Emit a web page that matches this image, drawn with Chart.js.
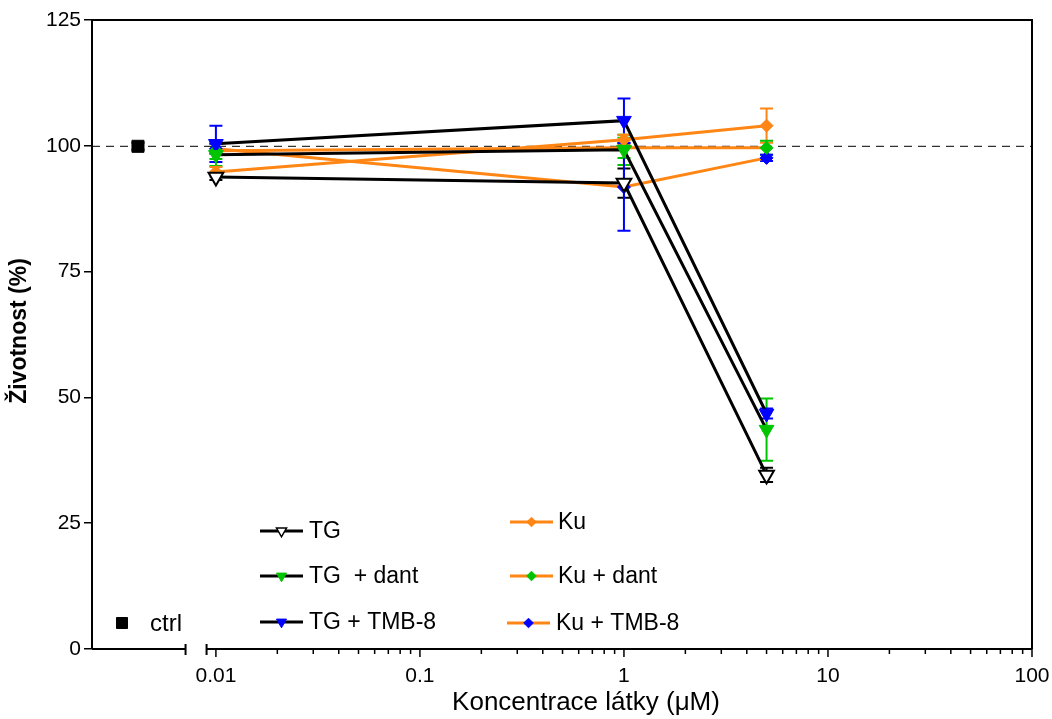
<!DOCTYPE html>
<html>
<head>
<meta charset="utf-8">
<script src="https://cdn.jsdelivr.net/npm/chart.js@4/dist/chart.umd.min.js"></script>
<style>
  html, body { margin: 0; padding: 0; background: #fff; }
  #wrap { width: 1052px; height: 719px; }
</style>
</head>
<body>
<div id="wrap"><canvas id="chart" width="1052" height="719"></canvas></div>
<script>
// concentrations (uM) and viability (%)
const concentrations = [0.01, 1, 5];

const tgValues = [93.8, 92.6, 34.6];
const tgErr = [0.6, 2.9, 1.4];
const tgDantValues = [98.2, 99.2, 43.6];
const tgDantErr = [2.2, 3.0, 6.2];
const tgTmbValues = [100.4, 105.0, 46.8];
const tgTmbErr = [3.6, 4.4, 1.0];

const kuValues = [94.8, 101.2, 104.0];
const kuErr = [1.0, 1.0, 3.4];
const kuDantValues = [99.0, 99.6, 99.6];
const kuDantErr = [1.6, 2.0, 1.4];
const kuTmbValues = [99.4, 91.8, 97.6];
const kuTmbErr = [1.0, 8.7, 0.6];

const ctrlX = [0.00415];
const ctrlValue = [99.9];
const ctrlErr = [0.7];

const yTicks = [0, 25, 50, 75, 100, 125];
const xDecadeLabels = ["0.01", "0.1", "1", "10", "100"];
const xRange = [0.00247, 100];
const axisBreak = [0.0071, 0.009];
const refLine = 100;

const FONT = "'Liberation Sans', Arial, Helvetica, sans-serif";
const ORANGE = "#ff8614";
const GREEN = "#00c400";
const BLUE = "#0000ff";

Chart.defaults.font.family = FONT;

function makeSet(label, values, err, lineColor, style, fill, edge) {
  const hollow = fill === "#ffffff";
  return {
    label: label,
    data: concentrations.map((x, i) => ({ x: x, y: values[i] })),
    err: err,
    errColor: hollow ? "#000000" : fill,
    legendStyle: style,
    borderColor: lineColor,
    backgroundColor: fill,
    borderWidth: 3,
    showLine: true,
    tension: 0,
    pointStyle: style,
    pointRotation: style === "triangle" ? 180 : 0,
    pointRadius: style === "triangle" ? 8.5 : 6.5,
    pointHoverRadius: style === "triangle" ? 8.5 : 6.5,
    pointBackgroundColor: fill,
    pointBorderColor: edge,
    pointBorderWidth: hollow ? 2 : 1
  };
}

const datasets = [
  makeSet("TG", tgValues, tgErr, "#000000", "triangle", "#ffffff", "#000000"),
  makeSet("TG  + dant", tgDantValues, tgDantErr, "#000000", "triangle", GREEN, GREEN),
  makeSet("TG + TMB-8", tgTmbValues, tgTmbErr, "#000000", "triangle", BLUE, BLUE),
  makeSet("Ku", kuValues, kuErr, ORANGE, "rectRot", ORANGE, ORANGE),
  makeSet("Ku + dant", kuDantValues, kuDantErr, ORANGE, "rectRot", GREEN, GREEN),
  makeSet("Ku + TMB-8", kuTmbValues, kuTmbErr, ORANGE, "rectRot", BLUE, BLUE),
  {
    label: "ctrl",
    data: ctrlX.map((x, i) => ({ x: x, y: ctrlValue[i] })),
    err: ctrlErr,
    errColor: "#000000",
    showLine: false,
    pointStyle: "rect",
    pointRadius: 8.5,
    pointHoverRadius: 8.5,
    pointBackgroundColor: "#000000",
    pointBorderColor: "#000000",
    pointBorderWidth: 1
  }
];

function drawMarker(ctx, style, x, y, r, fill, edge, lw) {
  ctx.beginPath();
  if (style === "triangle") {
    ctx.moveTo(x - r * 0.866, y - r * 0.5);
    ctx.lineTo(x + r * 0.866, y - r * 0.5);
    ctx.lineTo(x, y + r);
  } else if (style === "rectRot") {
    ctx.moveTo(x, y - r);
    ctx.lineTo(x + r, y);
    ctx.lineTo(x, y + r);
    ctx.lineTo(x - r, y);
  } else {
    ctx.rect(x - r, y - r, 2 * r, 2 * r);
  }
  ctx.closePath();
  ctx.fillStyle = fill;
  ctx.fill();
  ctx.lineWidth = lw;
  ctx.strokeStyle = edge;
  ctx.stroke();
}

// error bars, drawn under the markers
const errorBars = {
  id: "errorBars",
  beforeDatasetsDraw(chart) {
    const ctx = chart.ctx;
    const x = chart.scales.x;
    const y = chart.scales.y;
    chart.data.datasets.forEach(ds => {
      if (!ds.err) return;
      ctx.save();
      ctx.strokeStyle = ds.errColor;
      ctx.lineWidth = 2;
      ds.data.forEach((p, j) => {
        const px = x.getPixelForValue(p.x);
        const top = y.getPixelForValue(p.y + ds.err[j]);
        const bot = y.getPixelForValue(p.y - ds.err[j]);
        ctx.beginPath();
        ctx.moveTo(px, top);
        ctx.lineTo(px, bot);
        ctx.moveTo(px - 6.5, top);
        ctx.lineTo(px + 6.5, top);
        ctx.moveTo(px - 6.5, bot);
        ctx.lineTo(px + 6.5, bot);
        ctx.stroke();
      });
      ctx.restore();
    });
  }
};

// box, broken x axis with log ticks, dashed 100 % line
const frame = {
  id: "frame",
  beforeDatasetsDraw(chart) {
    const ctx = chart.ctx;
    const a = chart.chartArea;
    const x = chart.scales.x;
    const y = chart.scales.y;

    ctx.save();
    ctx.strokeStyle = "#000";

    // dashed reference line
    ctx.lineWidth = 1;
    ctx.setLineDash([8, 6]);
    ctx.beginPath();
    ctx.moveTo(a.left, y.getPixelForValue(refLine) + 0.5);
    ctx.lineTo(a.right, y.getPixelForValue(refLine) + 0.5);
    ctx.stroke();
    ctx.setLineDash([]);

    // top and right sides
    ctx.lineWidth = 2;
    ctx.beginPath();
    ctx.moveTo(a.left, a.top);
    ctx.lineTo(a.right, a.top);
    ctx.lineTo(a.right, a.bottom);
    ctx.stroke();

    // bottom axis with a break
    const b0 = x.getPixelForValue(axisBreak[0]);
    const b1 = x.getPixelForValue(axisBreak[1]);
    ctx.beginPath();
    ctx.moveTo(a.left, a.bottom);
    ctx.lineTo(b0, a.bottom);
    ctx.moveTo(b1, a.bottom);
    ctx.lineTo(a.right, a.bottom);
    ctx.moveTo(b0, a.bottom - 5);
    ctx.lineTo(b0, a.bottom + 6);
    ctx.moveTo(b1, a.bottom - 5);
    ctx.lineTo(b1, a.bottom + 6);
    ctx.stroke();

    ctx.lineWidth = 1.5;
    ctx.beginPath();
    for (let e = -2; e <= 2; e++) {
      for (let m = 1; m <= 9; m++) {
        const v = m * Math.pow(10, e);
        if (v > xRange[1] * 1.0001 || v < axisBreak[1]) continue;
        const px = x.getPixelForValue(v);
        ctx.moveTo(px, a.bottom);
        ctx.lineTo(px, a.bottom + (m === 1 ? 8 : 5));
      }
    }
    ctx.stroke();
    ctx.restore();
  },
  afterDraw(chart) {
    const ctx = chart.ctx;
    ctx.save();
    ctx.fillStyle = "#000";

    // axis titles
    ctx.font = "26px " + FONT;
    ctx.textAlign = "center";
    ctx.textBaseline = "middle";
    ctx.fillText("Koncentrace látky (μM)", 586, 703);

    ctx.translate(20, 331);
    ctx.rotate(-Math.PI / 2);
    ctx.font = "bold 23px " + FONT;
    ctx.fillText("Životnost (%)", 0, 0);
    ctx.restore();

    // legend
    const ds = chart.data.datasets;
    const spots = [
      { x0: 260, x1: 303, tx: 309, y: 531 },
      { x0: 260, x1: 303, tx: 309, y: 576 },
      { x0: 260, x1: 303, tx: 309, y: 622 },
      { x0: 510, x1: 553, tx: 558, y: 522 },
      { x0: 510, x1: 553, tx: 558, y: 576 },
      { x0: 507, x1: 550, tx: 556, y: 623 }
    ];
    ctx.save();
    ctx.font = "23px " + FONT;
    ctx.textBaseline = "middle";
    ctx.textAlign = "left";
    spots.forEach((s, i) => {
      const d = ds[i];
      ctx.strokeStyle = d.borderColor;
      ctx.lineWidth = 3;
      ctx.beginPath();
      ctx.moveTo(s.x0, s.y);
      ctx.lineTo(s.x1, s.y);
      ctx.stroke();
      const r = d.legendStyle === "triangle" ? 5.8 : 4.8;
      drawMarker(ctx, d.legendStyle, (s.x0 + s.x1) / 2, s.y, r,
        d.pointBackgroundColor, d.pointBorderColor, d.pointBorderWidth === 2 ? 1.5 : 1);
      ctx.fillStyle = "#000";
      ctx.fillText(d.label, s.tx, s.y + 1);
    });

    const c = ds[6];
    drawMarker(ctx, "rect", 122, 623, 5.5, c.pointBackgroundColor, c.pointBorderColor, 1);
    ctx.font = "24px " + FONT;
    ctx.fillStyle = "#000";
    ctx.fillText(c.label, 150, 624);
    ctx.restore();
  }
};

new Chart(document.getElementById("chart"), {
  type: "scatter",
  data: { datasets: datasets },
  options: {
    responsive: false,
    animation: false,
    devicePixelRatio: 1,
    layout: { padding: { top: 20, right: 20, left: 0, bottom: 0 } },
    plugins: {
      legend: { display: false },
      tooltip: { enabled: false }
    },
    scales: {
      x: {
        type: "logarithmic",
        min: xRange[0],
        max: xRange[1],
        afterFit(s) {
          s.height = 70;
          s.paddingLeft = 0;
          s.paddingRight = 0;
        },
        grid: { display: false, drawTicks: false },
        border: { display: false },
        ticks: {
          autoSkip: false,
          maxRotation: 0,
          padding: 15,
          color: "#000",
          font: { size: 21 },
          callback(v) {
            const l = Math.log10(v);
            const k = Math.round(l);
            if (Math.abs(l - k) > 1e-6) return "";
            return xDecadeLabels[k + 2] || "";
          }
        }
      },
      y: {
        min: yTicks[0],
        max: yTicks[yTicks.length - 1],
        afterFit(s) {
          s.width = 92;
          s.paddingTop = 0;
          s.paddingBottom = 0;
        },
        afterBuildTicks(s) { s.ticks = yTicks.map(v => ({ value: v })); },
        grid: { drawOnChartArea: false, drawTicks: true, tickLength: 8, color: "#000", lineWidth: 1.5 },
        border: { display: true, color: "#000", width: 2 },
        ticks: { color: "#000", padding: 3, font: { size: 21 } }
      }
    }
  },
  plugins: [errorBars, frame]
});
</script>
</body>
</html>
